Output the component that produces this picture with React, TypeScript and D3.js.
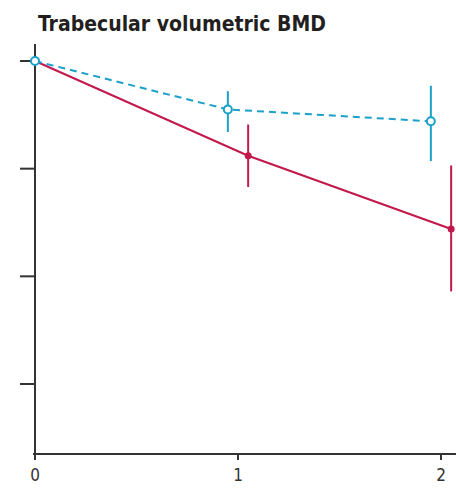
import React from "react";
import * as d3 from "d3";

const W = 456;
const H = 488;

const title = "Trabecular volumetric BMD";
const xTicks = [0, 1, 2];
const yTicks = [0, -1, -2, -3];

// placebo-like series (blue, dashed, open markers)
const blueX = [0, 0.95, 1.95];
const blueY = [0, -0.45, -0.56];
const blueLo = [0, -0.66, -0.93];
const blueHi = [0, -0.28, -0.23];

// treatment series (red, solid, filled markers)
const redX = [0, 1.05, 2.05];
const redY = [0, -0.88, -1.56];
const redLo = [0, -1.17, -2.14];
const redHi = [0, -0.59, -0.97];

const BLUE = "#1ba0c9";
const RED = "#c2184c";
const AXIS = "#333";

export default function App() {
  const x = d3.scaleLinear().domain([0, 2]).range([35, 441]);
  const y = d3.scaleLinear().domain([0, -3]).range([61, 384]);
  const line = d3.line<[number, number]>().x((d) => x(d[0])).y((d) => y(d[1]));

  const blue = blueX.map((v, i) => [v, blueY[i]] as [number, number]);
  const red = redX.map((v, i) => [v, redY[i]] as [number, number]);

  return (
    <svg
      width={W}
      height={H}
      style={{ position: "absolute", left: 0, top: 0, background: "#fff" }}
    >
      <text
        x={38}
        y={31}
        fontFamily="'DejaVu Sans Condensed', 'Liberation Sans', sans-serif"
        fontWeight="bold"
        fontSize={21}
        fill="#231f20"
        textLength={288}
        lengthAdjust="spacingAndGlyphs"
      >
        {title}
      </text>

      {/* axes */}
      <line x1={35} x2={35} y1={44} y2={455} stroke={AXIS} strokeWidth={2} />
      <line x1={33} x2={456} y1={454} y2={454} stroke={AXIS} strokeWidth={2} />
      {yTicks.map((t) => (
        <line key={t} x1={20} x2={35} y1={y(t)} y2={y(t)} stroke={AXIS} strokeWidth={2} />
      ))}
      {xTicks.map((t) => (
        <g key={t}>
          <line x1={x(t)} x2={x(t)} y1={454} y2={460} stroke={AXIS} strokeWidth={2} />
          <text
            x={x(t)}
            y={481}
            textAnchor="middle"
            fontFamily="'DejaVu Sans Condensed', 'Liberation Sans', sans-serif"
            fontSize={17}
            fill="#333"
          >
            {t}
          </text>
        </g>
      ))}

      {/* red series */}
      <path d={line(red) || ""} fill="none" stroke={RED} strokeWidth={2} />
      {redX.map((v, i) =>
        i === 0 ? null : (
          <line
            key={i}
            x1={x(v)}
            x2={x(v)}
            y1={y(redLo[i])}
            y2={y(redHi[i])}
            stroke={RED}
            strokeWidth={2}
          />
        )
      )}
      {red.map((d, i) => (
        <circle key={i} cx={x(d[0])} cy={y(d[1])} r={3.5} fill={RED} />
      ))}

      {/* blue series */}
      <path
        d={line(blue) || ""}
        fill="none"
        stroke={BLUE}
        strokeWidth={2}
        strokeDasharray="7,5"
      />
      {blueX.map((v, i) =>
        i === 0 ? null : (
          <line
            key={i}
            x1={x(v)}
            x2={x(v)}
            y1={y(blueLo[i])}
            y2={y(blueHi[i])}
            stroke={BLUE}
            strokeWidth={2}
          />
        )
      )}
      {blue.map((d, i) => (
        <circle
          key={i}
          cx={x(d[0])}
          cy={y(d[1])}
          r={4}
          fill="#fff"
          stroke={BLUE}
          strokeWidth={2}
        />
      ))}
    </svg>
  );
}
